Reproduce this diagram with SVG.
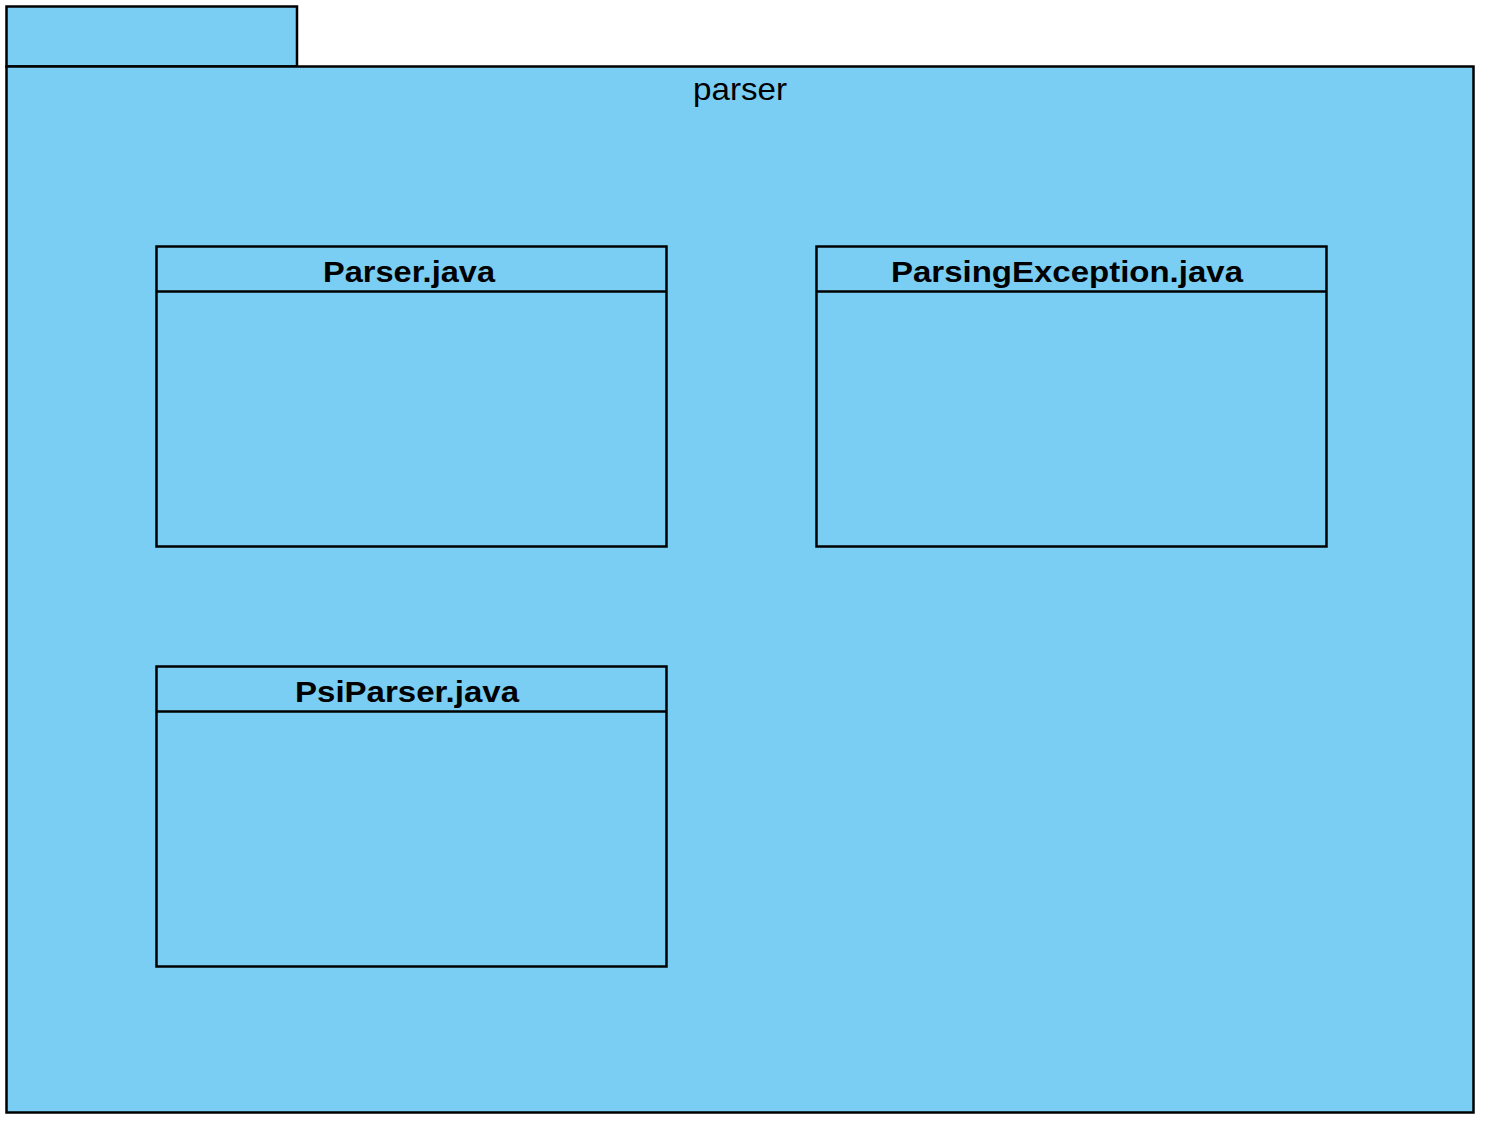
<svg xmlns="http://www.w3.org/2000/svg" width="1488" height="1128" viewBox="0 0 1488 1128">
<style>
.f{fill:#7acef3;stroke:#000;stroke-width:2.5}
.l{stroke:#000;stroke-width:2.5}
.t{font-family:"Liberation Sans",Arial,sans-serif;font-size:30px;font-weight:bold;text-anchor:middle;fill:#000}
.p{font-family:"Liberation Sans",Arial,sans-serif;font-size:32px;text-anchor:middle;fill:#000}
</style>
<rect width="1488" height="1128" fill="#fff"/>
<g id="package-parser">
<rect class="f" x="6.5" y="6.5" width="290.5" height="60"/>
<rect class="f" x="6.5" y="66.5" width="1467" height="1046"/>
<text class="p" x="740" y="100" textLength="94" lengthAdjust="spacingAndGlyphs">parser</text>
</g>
<g id="node-parser-java">
<rect class="f" x="156.5" y="246.5" width="510" height="300"/>
<line class="l" x1="156.5" y1="291.5" x2="666.5" y2="291.5"/>
<text class="t" x="409" y="282" textLength="172" lengthAdjust="spacingAndGlyphs">Parser.java</text>
</g>
<g id="node-parsingexception-java">
<rect class="f" x="816.5" y="246.5" width="510" height="300"/>
<line class="l" x1="816.5" y1="291.5" x2="1326.5" y2="291.5"/>
<text class="t" x="1067" y="282" textLength="352" lengthAdjust="spacingAndGlyphs">ParsingException.java</text>
</g>
<g id="node-psiparser-java">
<rect class="f" x="156.5" y="666.5" width="510" height="300"/>
<line class="l" x1="156.5" y1="711.5" x2="666.5" y2="711.5"/>
<text class="t" x="407" y="702" textLength="224" lengthAdjust="spacingAndGlyphs">PsiParser.java</text>
</g>
<g id="connectors"></g>
</svg>
